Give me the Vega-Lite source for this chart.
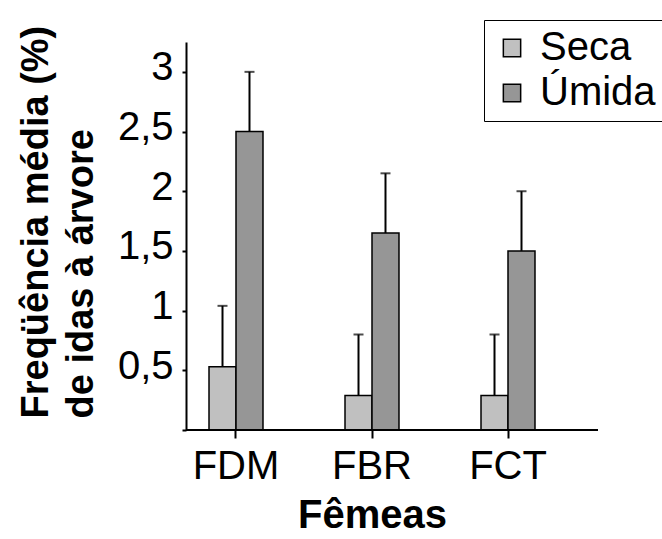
{
  "$schema": "https://vega.github.io/schema/vega-lite/v6.json",
  "width": 412,
  "height": 388,
  "autosize": "none",
  "padding": {"left": 186, "top": 42, "right": 64, "bottom": 109},
  "background": "white",
  "config": {
    "view": {"stroke": null},
    "font": "Liberation Sans",
    "axis": {"domainColor": "black", "tickColor": "black", "labelColor": "black", "titleColor": "black", "grid": false}
  },
  "data": {
    "values": [
      {"femea": "FDM", "estacao": "Seca", "media": 0.53, "limite": 1.04},
      {"femea": "FDM", "estacao": "Úmida", "media": 2.5, "limite": 3.0},
      {"femea": "FBR", "estacao": "Seca", "media": 0.29, "limite": 0.8},
      {"femea": "FBR", "estacao": "Úmida", "media": 1.65, "limite": 2.15},
      {"femea": "FCT", "estacao": "Seca", "media": 0.29, "limite": 0.8},
      {"femea": "FCT", "estacao": "Úmida", "media": 1.5, "limite": 2.0}
    ]
  },
  "layer": [
    {
      "mark": {"type": "bar", "stroke": "black", "strokeWidth": 1.5},
      "encoding": {
        "x": {
          "field": "femea", "type": "nominal", "sort": ["FDM", "FBR", "FCT"],
          "scale": {"range": [-18, 390], "paddingInner": 0.603, "paddingOuter": 0.3015},
          "axis": {
            "title": "Fêmeas", "titleFontSize": 40, "titleFontWeight": "bold",
            "titleX": 186, "titleY": 97, "titleBaseline": "alphabetic", "titleAlign": "center",
            "domain": false, "tickSize": 8, "tickWidth": 2, "labelFontSize": 40,
            "labelPadding": 8, "labelAngle": 0
          }
        },
        "xOffset": {"field": "estacao", "type": "nominal", "sort": ["Seca", "Úmida"], "scale": {"paddingInner": 0, "paddingOuter": 0}},
        "y": {
          "field": "media", "type": "quantitative",
          "scale": {"domain": [0, 3.25], "nice": false},
          "axis": {
            "title": ["Freqüência média (%)", "de idas à árvore"],
            "titleFontSize": 38, "titleFontWeight": "bold", "titleLineHeight": 45,
            "titleAlign": "left", "titleBaseline": "alphabetic", "titleAngle": 270,
            "titleX": -139, "titleY": 376,
            "values": [0, 0.5, 1, 1.5, 2, 2.5, 3],
            "labelExpr": "datum.value == 0 ? '' : replace(format(datum.value, '.1~f'), '.', ',')",
            "labelFontSize": 40, "labelPadding": 9, "labelOffset": -4,
            "tickSize": 4, "tickWidth": 2, "domainWidth": 2
          }
        },
        "color": {
          "field": "estacao", "type": "nominal",
          "scale": {"domain": ["Seca", "Úmida"], "range": ["#c0c0c0", "#969696"]},
          "legend": {
            "title": null, "orient": "none", "legendX": 298, "legendY": -22,
            "labelFontSize": 40, "labelColor": "black", "symbolType": "square", "symbolSize": 300,
            "symbolStrokeColor": "black", "symbolStrokeWidth": 1.5, "symbolOpacity": 1,
            "strokeColor": "black", "fillColor": "white", "padding": 8, "rowPadding": 5, "labelOffset": 8
          }
        }
      }
    },
    {
      "mark": {"type": "rule", "color": "black", "strokeWidth": 2},
      "encoding": {
        "x": {"field": "femea", "type": "nominal", "sort": ["FDM", "FBR", "FCT"]},
        "xOffset": {"field": "estacao", "type": "nominal", "sort": ["Seca", "Úmida"]},
        "y": {"field": "media", "type": "quantitative"},
        "y2": {"field": "limite"}
      }
    },
    {
      "mark": {"type": "tick", "color": "black", "thickness": 2, "size": 10},
      "encoding": {
        "x": {"field": "femea", "type": "nominal", "sort": ["FDM", "FBR", "FCT"]},
        "xOffset": {"field": "estacao", "type": "nominal", "sort": ["Seca", "Úmida"]},
        "y": {"field": "limite", "type": "quantitative"}
      }
    },
    {
      "mark": {"type": "rule", "color": "black", "strokeWidth": 2},
      "encoding": {"y": {"datum": 0}}
    }
  ]
}
